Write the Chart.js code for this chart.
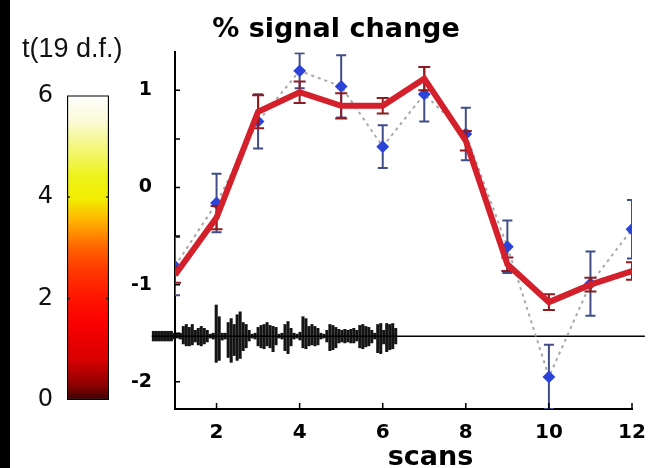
<!DOCTYPE html>
<html>
<head>
<meta charset="utf-8">
<script src="https://cdn.jsdelivr.net/npm/chart.js@4.4.0/dist/chart.umd.min.js"></script>
<style>
  html, body { margin: 0; padding: 0; background: #fff; }
  #wrap { position: relative; width: 654px; height: 468px; overflow: hidden; background: #fff; }
  #edge { position: absolute; left: 0; top: 0; width: 10px; height: 468px; background: #000; }
  canvas { position: absolute; top: 0; left: 0; }
</style>
</head>
<body>
<div id="wrap">
  <canvas id="chart-signal" width="654" height="468"></canvas>
  <canvas id="chart-colorbar" width="140" height="468"></canvas>
  <div id="edge"></div>
</div>
<script>
// ====== DATA ======
const scans = [1, 2, 3, 4, 5, 6, 7, 8, 9, 10, 11, 12];
const meanSignal = [-0.9, -0.31, 0.78, 0.98, 0.84, 0.84, 1.12, 0.48, -0.79, -1.18, -1.0, -0.86];
const meanErr = [0.08, 0.12, 0.17, 0.11, 0.13, 0.08, 0.12, 0.1, 0.07, 0.08, 0.07, 0.09];
const singleSignal = [-0.81, -0.16, 0.68, 1.2, 1.04, 0.42, 0.96, 0.55, -0.61, -1.95, -0.99, -0.43];
const singleErr = [0.3, 0.3, 0.28, 0.18, 0.32, 0.22, 0.28, 0.27, 0.27, 0.33, 0.33, 0.3];

const xTickLabels = [2, 4, 6, 8, 10, 12];
const yTickLabels = [-2, -1, 0, 1];
const xTitle = "scans";

// stimulus trace drawn on the baseline (amplitudes in hundredths of % signal)
const baselineLevel = -1.53;
const baselineFrom = 0.44;
const baselineTo = 12.31;
const waveStart = 0.48;
const waveStep = 0.072;
const waveUp = [5, 5, 5, 5, 5, 5, 5, 3, 2, 3, 10, 12, 9, 12, 6, 8, 10, 8, 6, 2,
  3, 32, 20, 3, 3, 14, 18, 12, 22, 25, 14, 12, 6, 2, 3, 9, 11, 12, 14, 11,
  10, 9, 2, 3, 12, 15, 8, 3, 2, 4, 20, 18, 10, 12, 10, 8, 3, 2, 6, 12,
  11, 9, 7, 6, 7, 6, 7, 8, 6, 11, 12, 10, 9, 6, 3, 12, 13, 6, 13, 12, 13, 8];
const waveDown = [5, 5, 5, 5, 5, 5, 5, 3, 2, 3, 8, 10, 10, 9, 6, 9, 10, 8, 6, 2,
  3, 27, 25, 4, 3, 22, 27, 20, 25, 23, 15, 12, 5, 2, 3, 10, 12, 13, 10, 12,
  16, 9, 2, 3, 15, 18, 10, 3, 2, 4, 12, 13, 10, 9, 10, 9, 3, 2, 6, 15,
  14, 12, 7, 6, 7, 6, 7, 7, 5, 12, 13, 11, 10, 7, 3, 17, 18, 8, 16, 14, 13, 8];

// colour scale
const cbarTicks = [0, 2, 4, 6];
const cmapValues = [0, 0.3, 0.8, 1.5, 2.0, 2.6, 3.0, 3.3, 3.6, 3.95, 4.4, 5.0, 5.5, 6.0];
const cmapColors = ["#3a0000", "#900000", "#d80000", "#fa0000", "#ff1400", "#ff3c00", "#ff6400",
  "#ff9000", "#ffbc00", "#f2ec00", "#eef21a", "#f4f780", "#fafad8", "#ffffff"];

Chart.defaults.font.family = "'DejaVu Sans', sans-serif";
Chart.defaults.color = "#111";

// ====== PLUGINS ======
const errorBars = {
    id: "errorBars",
    beforeDatasetDraw(chart, args) {
        const ds = chart.data.datasets[args.index];
        if (!ds.errors) return;
        const { ctx, chartArea: a, scales: { x, y } } = chart;
        ctx.save();
        ctx.beginPath();
        ctx.rect(a.left, a.top, a.width, a.height);
        ctx.clip();
        ctx.strokeStyle = ds.errorColor;
        ctx.lineWidth = 2;
        ds.data.forEach((p, i) => {
            const px = x.getPixelForValue(p.x);
            const top = y.getPixelForValue(p.y + ds.errors[i]);
            const bot = y.getPixelForValue(p.y - ds.errors[i]);
            const cap = ds.errorCap;
            ctx.beginPath();
            ctx.moveTo(px, top); ctx.lineTo(px, bot);
            ctx.moveTo(px - cap, top); ctx.lineTo(px + cap, top);
            ctx.moveTo(px - cap, bot); ctx.lineTo(px + cap, bot);
            ctx.stroke();
        });
        ctx.restore();
    }
};

// inward tick marks + axis title placed under the right half of the axis
const axisDecor = {
    id: "axisDecor",
    afterDraw(chart) {
        const { ctx, chartArea: a, scales: { x, y } } = chart;
        ctx.save();
        ctx.strokeStyle = "#000";
        ctx.lineWidth = 1.5;
        ctx.beginPath();
        y.ticks.forEach(t => {
            if (Math.abs(t.value * 2 - Math.round(t.value * 2)) > 1e-6) return;
            const py = y.getPixelForValue(t.value);
            ctx.moveTo(a.left, py); ctx.lineTo(a.left + 5, py);
        });
        xTickLabels.forEach(v => {
            const px = x.getPixelForValue(v);
            ctx.moveTo(px, a.bottom); ctx.lineTo(px, a.bottom - 6);
        });
        ctx.stroke();

        ctx.fillStyle = "#000";
        ctx.font = "bold 27px 'DejaVu Sans', sans-serif";
        ctx.textAlign = "center";
        ctx.textBaseline = "alphabetic";
        ctx.fillText(xTitle, x.getPixelForValue(7.15), 465);
        ctx.restore();
    }
};

const cbarTickMarks = {
    id: "cbarTickMarks",
    afterDraw(chart) {
        const { ctx, chartArea: a, scales: { y } } = chart;
        ctx.save();
        ctx.strokeStyle = "#222";
        ctx.lineWidth = 1.5;
        ctx.beginPath();
        [2, 4].forEach(v => {
            const py = y.getPixelForValue(v);
            ctx.moveTo(a.left, py); ctx.lineTo(a.left + 3, py);
            ctx.moveTo(a.right, py); ctx.lineTo(a.right - 3, py);
        });
        ctx.stroke();
        ctx.restore();
    }
};

// ====== SIGNAL CHART ======
const meanPoints = scans.map((s, i) => ({ x: s, y: meanSignal[i] }));
const singlePoints = scans.map((s, i) => ({ x: s, y: singleSignal[i] }));
const wavePoints = waveUp.map((u, i) => ({
    x: waveStart + i * waveStep,
    y: [baselineLevel - waveDown[i] / 100, baselineLevel + u / 100]
}));

new Chart(document.getElementById("chart-signal"), {
    type: "line",
    data: {
        datasets: [
            {
                label: "mean",
                data: meanPoints,
                borderColor: "#d3202a",
                borderWidth: 6,
                pointRadius: 0,
                errors: meanErr,
                errorColor: "#8c1c22",
                errorCap: 6
            },
            {
                label: "single",
                data: singlePoints,
                borderColor: "#a9a9a9",
                borderWidth: 2,
                borderDash: [3, 4],
                pointStyle: "rectRot",
                pointRadius: 5,
                pointBackgroundColor: "#2c44d8",
                pointBorderColor: "#2c44d8",
                errors: singleErr,
                errorColor: "#414d86",
                errorCap: 5
            },
            {
                label: "baseline",
                data: [{ x: baselineFrom, y: baselineLevel }, { x: baselineTo, y: baselineLevel }],
                borderColor: "#000",
                borderWidth: 1.5,
                pointRadius: 0,
                clip: false
            },
            {
                type: "bar",
                label: "stimulus",
                data: wavePoints,
                backgroundColor: "#151515",
                barThickness: 2.4,
                clip: false
            }
        ]
    },
    options: {
        responsive: false,
        animation: false,
        layout: { padding: { left: 40, right: 22, top: 0, bottom: 0 } },
        plugins: {
            legend: { display: false },
            tooltip: { enabled: false },
            title: {
                display: true,
                text: "% signal change",
                color: "#000",
                font: { size: 27, weight: "bold" },
                padding: { top: 14, bottom: 6 }
            }
        },
        scales: {
            x: {
                type: "linear",
                min: 1,
                max: 12,
                offset: false,
                grid: { display: false, offset: false },
                border: { display: true, color: "#000", width: 2 },
                ticks: {
                    stepSize: 1,
                    autoSkip: false,
                    maxRotation: 0,
                    padding: 4,
                    color: "#000",
                    font: { size: 20, weight: "bold" },
                    callback: v => xTickLabels.includes(v) ? String(v) : ""
                },
                afterFit: s => { s.height = 59; }
            },
            y: {
                type: "linear",
                min: -2.28,
                max: 1.39,
                grid: { display: false, drawTicks: false },
                border: { display: true, color: "#000", width: 2 },
                ticks: {
                    stepSize: 0.5,
                    autoSkip: false,
                    padding: 23,
                    color: "#000",
                    font: { size: 19, weight: "bold" },
                    callback: v => yTickLabels.includes(v) ? String(v) : ""
                },
                afterFit: s => { s.width = 135; }
            }
        }
    },
    plugins: [errorBars, axisDecor]
});

// ====== COLOUR BAR ======
new Chart(document.getElementById("chart-colorbar"), {
    type: "bar",
    data: {
        labels: [""],
        datasets: [{
            data: [[cbarTicks[0], cbarTicks[cbarTicks.length - 1]]],
            backgroundColor: ctx => {
                const { chart } = ctx;
                if (!chart.chartArea) return "#f00";
                const y = chart.scales.y;
                const g = chart.ctx.createLinearGradient(0, y.getPixelForValue(0), 0, y.getPixelForValue(6));
                cmapValues.forEach((v, i) => g.addColorStop(v / 6, cmapColors[i]));
                return g;
            },
            borderColor: "#000",
            borderWidth: 1.5,
            borderSkipped: false,
            barPercentage: 1,
            categoryPercentage: 1
        }]
    },
    options: {
        responsive: false,
        animation: false,
        layout: { padding: { left: 22, right: 0, top: 0, bottom: 68 } },
        plugins: {
            legend: { display: false },
            tooltip: { enabled: false },
            title: {
                display: true,
                text: "t(19 d.f.)",
                align: "start",
                color: "#111",
                font: { family: "'Liberation Sans', Arial, sans-serif", size: 27, weight: "normal" },
                padding: { top: 33, bottom: 30 }
            }
        },
        scales: {
            x: { display: false },
            y: {
                min: 0,
                max: 6,
                grid: { display: false, drawTicks: false },
                border: { display: false },
                ticks: {
                    stepSize: 2,
                    padding: 14,
                    color: "#111",
                    font: { size: 24 }
                },
                afterFit: s => { s.width = 45; }
            },
            // empty spacer on the right so the title can run past the bar
            spacer: {
                type: "linear",
                position: "right",
                display: true,
                grid: { display: false, drawTicks: false },
                border: { display: false },
                ticks: { display: false },
                afterFit: s => { s.width = 31; }
            }
        }
    },
    plugins: [cbarTickMarks]
});
</script>
</body>
</html>
